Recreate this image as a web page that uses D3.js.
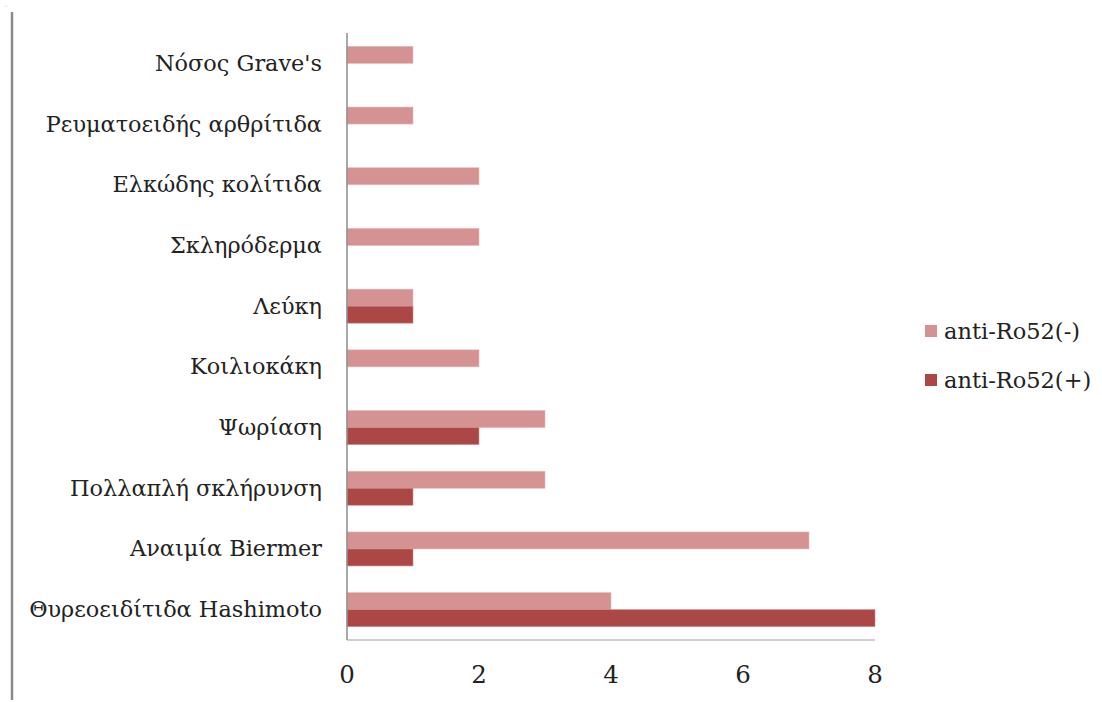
<!DOCTYPE html>
<html><head><meta charset="utf-8">
<script src="https://cdn.jsdelivr.net/npm/d3@7"></script>
<style>body{margin:0;background:#fff;} svg{display:block;}</style>
</head><body>
<svg id="c" width="1102" height="702"></svg>
<script>
const categories = ["Νόσος Grave's","Ρευματοειδής αρθρίτιδα","Ελκώδης κολίτιδα","Σκληρόδερμα","Λεύκη","Κοιλιοκάκη","Ψωρίαση","Πολλαπλή σκλήρυνση","Αναιμία Biermer","Θυρεοειδίτιδα Hashimoto"];
const negValues = [1,1,2,2,1,2,3,3,7,4];
const posValues = [0,0,0,0,1,0,2,1,1,8];
const seriesNames = ["anti-Ro52(-)","anti-Ro52(+)"];
const colors = ["#D49392","#AB4846"];
const xTicks = [0,2,4,6,8];

const svg = d3.select("#c");
const pL = 347, pR = 875, pT = 33, pB = 640;
const font = "'DejaVu Serif', serif";

const x = d3.scaleLinear().domain([0,8]).range([pL,pR]);
const y = d3.scaleBand().domain(categories).range([pT,pB]).paddingInner(0.44).paddingOuter(0.22);
const sub = d3.scaleBand().domain([0,1]).range([0,y.bandwidth()]);

svg.append("line").attr("x1",12).attr("x2",12).attr("y1",12).attr("y2",700).attr("stroke","#8a8a8a").attr("stroke-width",2.5);
svg.append("text").attr("x",4).attr("y",10).attr("font-size",10).attr("fill","#ccc").attr("font-family",font).text("ᵕ");

const data = categories.map((c,i)=>({c, v:[negValues[i],posValues[i]]}));
const g = svg.append("g");
data.forEach(d=>{
  d.v.forEach((v,k)=>{
    if(v<=0) return;
    g.append("rect").attr("x",x(0)).attr("y",y(d.c)+sub(k)).attr("width",x(v)-x(0)).attr("height",sub.bandwidth())
      .attr("fill",colors[k]).attr("stroke", k===0?"#e3b8b7":"#cc8a88").attr("stroke-width",0.6);
  });
});

svg.append("line").attr("x1",pL).attr("x2",pL).attr("y1",pT).attr("y2",pB).attr("stroke","#8c8c8c").attr("stroke-width",1.5);
svg.append("line").attr("x1",pL).attr("x2",pR).attr("y1",pB).attr("y2",pB).attr("stroke","#a0a0a0").attr("stroke-width",1);

svg.append("g").selectAll("text").data(xTicks).join("text")
  .attr("x",d=>x(d)).attr("y",683).attr("text-anchor","middle")
  .attr("font-family",font).attr("font-size",24.5).attr("fill","#222").text(d=>d);

svg.append("g").selectAll("text").data(categories).join("text")
  .attr("x",322).attr("y",d=>y(d)+y.bandwidth()/2+7.5).attr("text-anchor","end")
  .attr("font-family",font).attr("font-size",22.4).attr("fill","#222").text(d=>d);

const leg = svg.append("g");
seriesNames.forEach((s,i)=>{
  const yy = 331 + i*49;
  leg.append("rect").attr("x",925).attr("y",yy-6).attr("width",12).attr("height",12).attr("fill",colors[i]);
  leg.append("text").attr("x",944).attr("y",yy+8).attr("font-family",font).attr("font-size",22.5).attr("fill","#222").text(s);
});
</script>
</body></html>
